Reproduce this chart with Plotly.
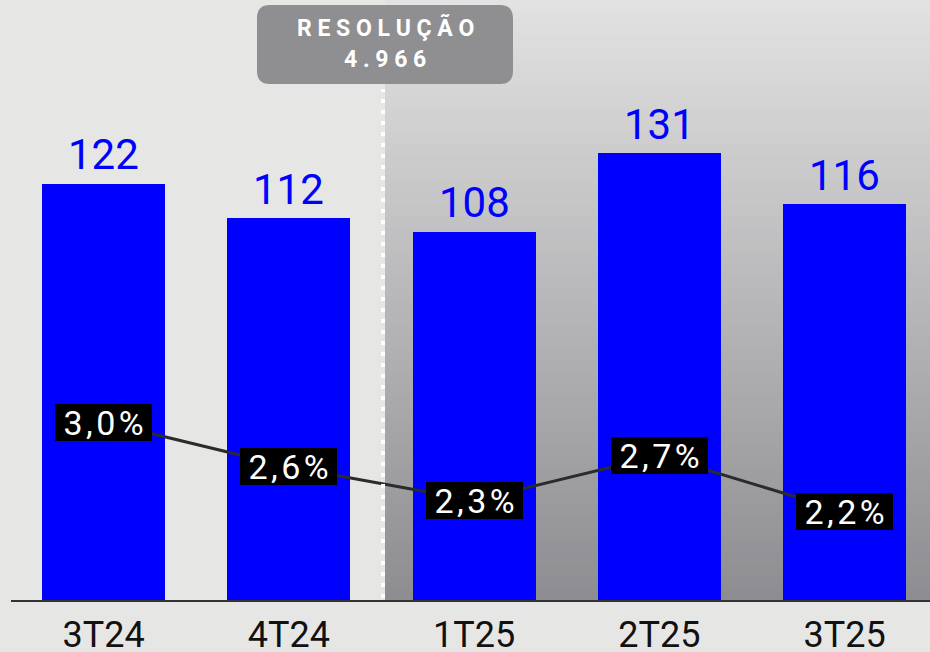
import plotly.graph_objects as go

# ---- data ----
categories = ["3T24", "4T24", "1T25", "2T25", "3T25"]
volumes = [122, 112, 108, 131, 116]
rates = [3.0, 2.6, 2.3, 2.7, 2.2]
note_title = "RESOLUÇÃO"
note_value = "4.966"

W, H = 930, 652
ML, MB = 11, 52
PW, PH = W - ML, H - MB

BLUE = "#0000fe"
BG = "#e6e6e5"

fig = go.Figure()

fig.add_trace(go.Bar(
    x=categories, y=volumes, marker=dict(color=BLUE, line=dict(width=0)),
    width=0.664, hoverinfo="skip", showlegend=False,
))
fig.add_trace(go.Scatter(
    x=categories, y=rates, yaxis="y2", mode="lines",
    line=dict(color="#2b2b2b", width=3), hoverinfo="skip", showlegend=False,
))

shapes = []
# gradient panel on right side (styling only)
gx0 = (385 - ML) / PW
n = 100
top_c = (226, 226, 226)
bot_c = (141, 141, 145)
for i in range(n):
    t = (i + 0.5) / n  # 0 at top
    c = tuple(round(top_c[k] + (bot_c[k] - top_c[k]) * t) for k in range(3))
    y1 = 1 - i / n
    y0 = 1 - (i + 1) / n
    shapes.append(dict(type="rect", xref="paper", yref="paper", x0=gx0, x1=1,
                       y0=y0 - 0.002, y1=y1, fillcolor="rgb(%d,%d,%d)" % c,
                       line=dict(width=0), layer="below"))
shapes.append(dict(type="rect", xref="paper", yref="paper", x0=gx0, x1=1,
                   y0=-2 / PH, y1=0, fillcolor="rgb(141,141,145)",
                   line=dict(width=0), layer="below"))

# dotted divider
dx = (383 - ML) / PW
shapes.append(dict(type="line", xref="paper", yref="paper", x0=dx, x1=dx,
                   y0=(PH - 598) / PH, y1=(PH - 89) / PH,
                   line=dict(color="white", width=4, dash="4px,7px"), layer="above"))

# rounded box
bx0, bx1 = (257 - ML) / PW, (513 - ML) / PW
byt, byb = (PH - 5) / PH, (PH - 84) / PH
rx, ry = 13 / PW, 13 / PH
path = (f"M {bx0+rx},{byt} L {bx1-rx},{byt} Q {bx1},{byt} {bx1},{byt-ry} "
        f"L {bx1},{byb+ry} Q {bx1},{byb} {bx1-rx},{byb} L {bx0+rx},{byb} "
        f"Q {bx0},{byb} {bx0},{byb+ry} L {bx0},{byt-ry} Q {bx0},{byt} {bx0+rx},{byt} Z")
shapes.append(dict(type="path", xref="paper", yref="paper", path=path,
                   fillcolor="#8f8f91", line=dict(width=0), layer="above"))

annotations = []
for c, v in zip(categories, volumes):
    annotations.append(dict(x=c, y=v, xref="x", yref="y", text=str(v), showarrow=False,
                            yanchor="middle", yshift=29,
                            font=dict(family="Roboto", size=42, color=BLUE)))
for c, r in zip(categories, rates):
    label = f"{r:.1f}".replace(".", ",") + "%"
    label = "\u200a".join(label)
    annotations.append(dict(x=c, y=r, xref="x", yref="y2", text=label, showarrow=False,
                            xanchor="center", yanchor="middle", bgcolor="black",
                            width=97, height=37, borderpad=0, borderwidth=0,
                            font=dict(family="Roboto", size=34, color="white")))

cx = (385 - ML) / PW
annotations.append(dict(x=cx, y=(PH - 28.5) / PH, xref="paper", yref="paper",
                        text="<b>" + " ".join(note_title) + "</b>", showarrow=False,
                        yanchor="middle", font=dict(family="Roboto", size=23, color="white")))
annotations.append(dict(x=cx, y=(PH - 60) / PH, xref="paper", yref="paper",
                        text="<b>" + " ".join(note_value) + "</b>", showarrow=False,
                        yanchor="middle", font=dict(family="Roboto", size=23, color="white")))

fig.update_layout(
    width=W, height=H,
    margin=dict(l=ML, r=0, t=0, b=MB, pad=0),
    paper_bgcolor=BG, plot_bgcolor=BG,
    showlegend=False,
    bargap=0,
    shapes=shapes,
    annotations=annotations,
    xaxis=dict(range=[-0.5, -0.5 + PW / 185.25], showgrid=False, zeroline=False,
               showline=True, linecolor="#333333", linewidth=2,
               ticks="outside", ticklen=2, tickcolor="rgba(0,0,0,0)",
               tickfont=dict(family="Roboto", size=36, color="#111111"),
               automargin=False, fixedrange=True),
    yaxis=dict(range=[0, PH / 3.41], visible=False, fixedrange=True),
    yaxis2=dict(range=[1.411, 6.768], overlaying="y", visible=False, fixedrange=True),
)

fig.write_html("out.html", config={"displayModeBar": False},
               post_script="document.body.style.margin='0';document.body.style.overflow='hidden';")
